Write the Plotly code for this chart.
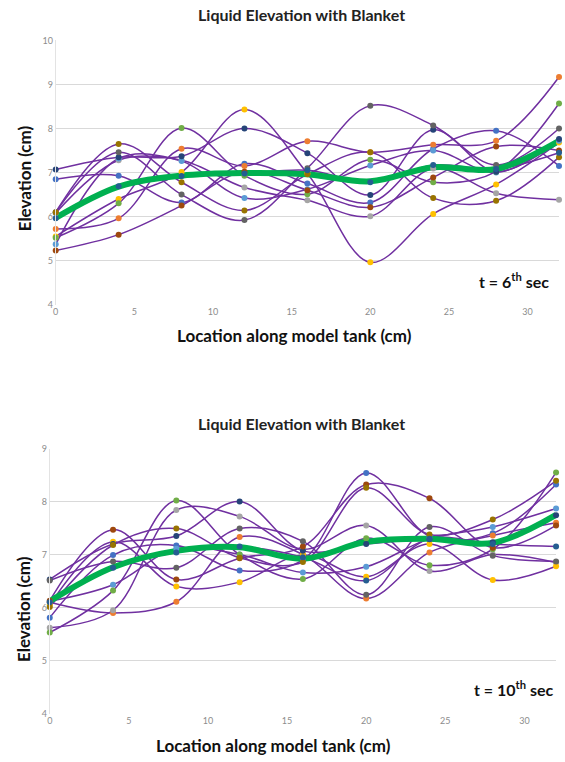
import plotly.graph_objects as go

X = [0, 4, 8, 12, 16, 20, 24, 28, 32]

SERIES_NAMES = ["blue", "orange", "gray", "yellow", "lightblue", "green",
                "darkblue", "darkorange", "darkgray", "darkyellow", "navy2"]
MARKER_COLORS = ["#4472C4", "#ED7D31", "#A5A5A5", "#FFC000", "#5B9BD5", "#70AD47",
                 "#264478", "#9E480E", "#636363", "#997300", "#255E91"]

# t = 6th sec
top_blue       = [6.85, 6.93, 6.32, 7.20, 6.75, 6.32, 7.54, 7.95, 7.15]
top_orange     = [5.72, 5.96, 7.54, 7.15, 7.71, 7.46, 7.63, 7.72, 9.17]
top_gray       = [6.08, 7.28, 7.28, 6.66, 6.37, 6.01, 7.09, 6.53, 6.38]
top_yellow     = [5.55, 6.40, 7.01, 8.43, 6.98, 4.96, 6.06, 6.73, 7.68]
top_lightblue  = [5.37, 7.32, 7.26, 6.42, 6.62, 7.16, 7.50, 7.00, 7.72]
top_green      = [5.52, 6.30, 8.01, 6.93, 6.51, 7.29, 6.78, 7.02, 8.57]
top_darkblue   = [7.07, 7.35, 7.37, 8.00, 7.44, 6.49, 7.97, 7.02, 7.76]
top_darkorange = [5.23, 5.59, 6.25, 7.02, 6.60, 6.21, 6.89, 7.59, 7.50]
top_darkgray   = [6.10, 7.46, 6.50, 5.92, 7.10, 8.52, 8.07, 7.17, 8.00]
top_darkyellow = [6.10, 7.65, 6.78, 6.14, 6.96, 7.46, 6.42, 6.36, 7.35]
top_navy2      = [5.96, 6.69, 6.92, 6.98, 7.05, 6.78, 7.17, 7.08, 7.45]
top_average    = [5.97, 6.68, 6.93, 6.99, 6.96, 6.80, 7.12, 7.08, 7.72]

# t = 10th sec
bot_blue       = [5.81, 6.99, 7.17, 6.70, 6.90, 8.54, 7.35, 7.40, 8.32]
bot_orange     = [6.10, 5.90, 6.11, 7.33, 7.00, 6.17, 7.04, 7.36, 7.60]
bot_gray       = [5.62, 5.95, 7.84, 7.72, 7.10, 7.55, 6.69, 7.00, 6.85]
bot_yellow     = [6.05, 7.24, 6.40, 6.48, 6.99, 6.58, 7.20, 6.52, 6.78]
bot_lightblue  = [6.12, 6.43, 7.11, 7.00, 6.66, 6.77, 7.30, 7.52, 7.87]
bot_green      = [5.53, 6.32, 8.02, 7.00, 6.54, 7.31, 6.80, 7.10, 8.55]
bot_darkblue   = [6.53, 7.20, 7.35, 8.00, 7.07, 7.20, 7.29, 7.23, 7.74]
bot_darkorange = [6.13, 7.47, 6.53, 6.93, 7.15, 8.32, 8.06, 7.13, 7.55]
bot_darkgray   = [6.51, 6.87, 6.75, 7.49, 7.25, 6.24, 7.52, 6.98, 6.87]
bot_darkyellow = [6.01, 7.18, 7.49, 6.94, 6.86, 8.26, 7.38, 7.66, 8.39]
bot_navy2      = [6.10, 6.75, 7.04, 7.15, 6.95, 6.51, 7.30, 7.20, 7.15]
bot_average    = [6.12, 6.76, 7.07, 7.14, 6.92, 7.24, 7.30, 7.22, 7.75]

X_TICKS = [0, 5, 10, 15, 20, 25, 30]
TOP_Y_TICKS = [4, 5, 6, 7, 8, 9, 10]
BOT_Y_TICKS = [4, 5, 6, 7, 8, 9]

TITLE = "Liquid Elevation with Blanket"
X_TITLE = "Location along model tank (cm)"
Y_TITLE = "Elevation (cm)"
TOP_LABEL = "t = 6<sup>th</sup> sec"
BOT_LABEL = "t = 10<sup>th</sup> sec"

top_series = [top_blue, top_orange, top_gray, top_yellow, top_lightblue, top_green,
              top_darkblue, top_darkorange, top_darkgray, top_darkyellow, top_navy2]
bot_series = [bot_blue, bot_orange, bot_gray, bot_yellow, bot_lightblue, bot_green,
              bot_darkblue, bot_darkorange, bot_darkgray, bot_darkyellow, bot_navy2]

W, H = 565, 762
PURPLE = "#7030A0"
AVG_GREEN = "#00B050"
FONT = "Lato"


def fx(p):
    return p / W


def fy(p):
    return 1 - p / H


fig = go.Figure()


def add_panel(series, average, xa, ya):
    for s in series:
        fig.add_trace(go.Scatter(x=X, y=s, mode="lines", xaxis=xa, yaxis=ya,
                                 line=dict(color=PURPLE, width=1.5, shape="spline", smoothing=1.0),
                                 showlegend=False, hoverinfo="skip", cliponaxis=False))
    fig.add_trace(go.Scatter(x=X, y=average, mode="lines", xaxis=xa, yaxis=ya,
                             line=dict(color=AVG_GREEN, width=6, shape="spline", smoothing=1.0),
                             showlegend=False, hoverinfo="skip", cliponaxis=False))
    for s, c in zip(series, MARKER_COLORS):
        fig.add_trace(go.Scatter(x=X, y=s, mode="markers", xaxis=xa, yaxis=ya,
                                 marker=dict(color=c, size=6, line=dict(width=0)),
                                 showlegend=False, hoverinfo="skip", cliponaxis=False))


add_panel(top_series, top_average, "x", "y")
add_panel(bot_series, bot_average, "x2", "y2")

tick_font = dict(family=FONT, size=9, color="#8c8c8c")
common_x = dict(range=[0, 32], tickvals=X_TICKS, showgrid=False, zeroline=False,
                showline=False, ticks="", tickfont=tick_font)
common_y = dict(showgrid=True, gridcolor="#d9d9d9", gridwidth=1, zeroline=False,
                showline=True, linecolor="#e3e3e3", linewidth=1, ticks="", tickfont=tick_font)

fig.update_layout(
    width=W, height=H,
    margin=dict(l=0, r=0, t=0, b=0),
    paper_bgcolor="white", plot_bgcolor="white",
    xaxis=dict(domain=[fx(53), fx(559)], anchor="y", **common_x),
    yaxis=dict(domain=[fy(303), fy(35)], anchor="x", range=[4, 10], tickvals=TOP_Y_TICKS, **common_y),
    xaxis2=dict(domain=[fx(47), fx(556)], anchor="y2", **common_x),
    yaxis2=dict(domain=[fy(718), fy(449)], anchor="x2", range=[4, 9], tickvals=BOT_Y_TICKS, **common_y),
)

title_font = dict(family=FONT, size=16, color="#222222")
label_font = dict(family=FONT, size=17, color="#111111")
ann_font = dict(family=FONT, size=16, color="#111111")

annotations = [
    dict(text="<b>" + TITLE + "</b>", x=fx(300), y=fy(9), font=title_font),
    dict(text="<b>" + TITLE + "</b>", x=fx(300), y=fy(424), font=title_font),
    dict(text="<b>" + X_TITLE + "</b>", x=fx(293), y=fy(334), font=label_font),
    dict(text="<b>" + X_TITLE + "</b>", x=fx(272), y=fy(750), font=label_font),
    dict(text="<b>" + Y_TITLE + "</b>", x=fx(22), y=fy(175), font=label_font, textangle=-90),
    dict(text="<b>" + Y_TITLE + "</b>", x=fx(20), y=fy(612), font=label_font, textangle=-90),
    dict(text="<b>" + TOP_LABEL + "</b>", x=fx(514), y=fy(279), font=ann_font),
    dict(text="<b>" + BOT_LABEL + "</b>", x=fx(514), y=fy(693), font=ann_font),
]
for a in annotations:
    a.update(xref="paper", yref="paper", showarrow=False, xanchor="center", yanchor="middle")
fig.update_layout(annotations=annotations)

fig.write_html("out.html",
               config={"displayModeBar": False},
               post_script="document.body.style.margin='0';document.body.style.overflow='hidden';")
